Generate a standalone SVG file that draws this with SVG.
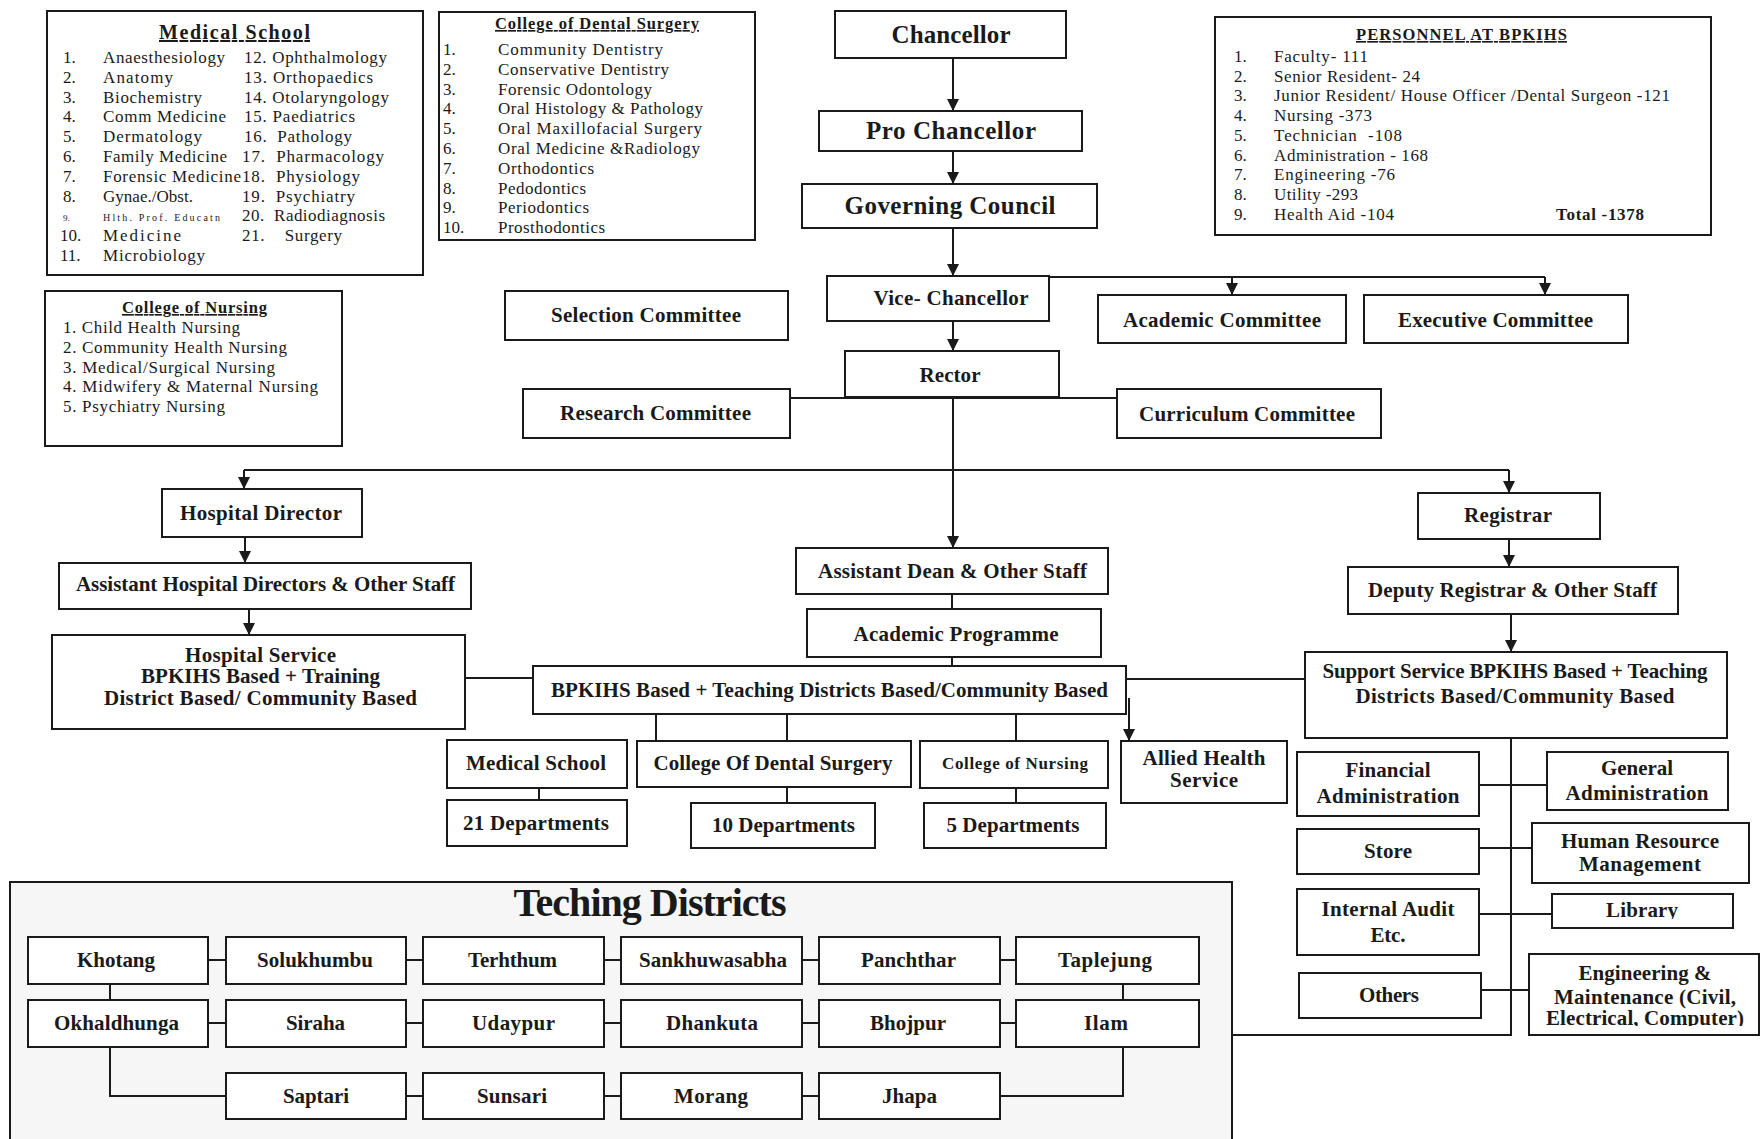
<svg xmlns="http://www.w3.org/2000/svg" width="1764" height="1139" viewBox="0 0 1764 1139">
<style>
text{font-family:"Liberation Serif","Times New Roman",serif;fill:#1a1a1a}
.b{font-weight:bold;font-size:21px;text-anchor:middle}
.li{font-size:17px}
.ti{font-weight:bold;font-size:16.5px;text-anchor:middle;text-decoration:underline}
rect.n{fill:#fff;stroke:#1a1a1a;stroke-width:2}
.c line,.c polyline{stroke:#1a1a1a;stroke-width:2;fill:none}
</style>
<defs>
<marker id="ar" markerUnits="userSpaceOnUse" markerWidth="12" markerHeight="12" viewBox="0 0 12 12" refX="12" refY="6" orient="auto">
<path d="M0,0 L12,6 L0,12 z" fill="#1a1a1a"/>
</marker>
<clipPath id="clipLib"><rect x="1552" y="894" width="181" height="25"/></clipPath>
<clipPath id="clipEng"><rect x="1529" y="1005" width="230" height="21"/></clipPath>
</defs>
<rect width="1764" height="1139" fill="#fff"/>

<g id="teaching-districts">
<rect x="10" y="882" width="1222" height="270" fill="#f6f6f6" stroke="#1a1a1a" stroke-width="2"/>
<text x="650" y="916" font-size="40" font-weight="bold" text-anchor="middle" textLength="273">Teching Districts</text>
</g>

<g class="c" id="connectors">
<line x1="953" y1="58" x2="953" y2="111" marker-end="url(#ar)"/>
<line x1="953" y1="151" x2="953" y2="184" marker-end="url(#ar)"/>
<line x1="953" y1="228" x2="953" y2="276" marker-end="url(#ar)"/>
<line x1="953" y1="277" x2="1545" y2="277"/>
<line x1="1232" y1="277" x2="1232" y2="295" marker-end="url(#ar)"/>
<line x1="1545" y1="277" x2="1545" y2="295" marker-end="url(#ar)"/>
<line x1="953" y1="321" x2="953" y2="351" marker-end="url(#ar)"/>
<line x1="790" y1="398" x2="1117" y2="398"/>
<line x1="953" y1="397" x2="953" y2="548" marker-end="url(#ar)"/>
<line x1="244" y1="470" x2="1509" y2="470"/>
<line x1="244" y1="470" x2="244" y2="489" marker-end="url(#ar)"/>
<line x1="1509" y1="470" x2="1509" y2="493" marker-end="url(#ar)"/>
<line x1="245" y1="537" x2="245" y2="563" marker-end="url(#ar)"/>
<line x1="249" y1="609" x2="249" y2="635" marker-end="url(#ar)"/>
<line x1="1509" y1="539" x2="1509" y2="567" marker-end="url(#ar)"/>
<line x1="1511" y1="614" x2="1511" y2="652" marker-end="url(#ar)"/>
<line x1="952" y1="594" x2="952" y2="609"/>
<line x1="952" y1="657" x2="952" y2="666"/>
<line x1="465" y1="678" x2="533" y2="678"/>
<line x1="1126" y1="679" x2="1305" y2="679"/>
<line x1="1129" y1="698" x2="1129" y2="741" marker-end="url(#ar)"/>
<line x1="656" y1="714" x2="656" y2="741"/>
<line x1="787" y1="714" x2="787" y2="741"/>
<line x1="1016" y1="714" x2="1016" y2="741"/>
<line x1="539" y1="788" x2="539" y2="800"/>
<line x1="787" y1="787" x2="787" y2="803"/>
<line x1="1016" y1="788" x2="1016" y2="803"/>
<polyline points="1511,738 1511,1035 1232,1035"/>
<line x1="1479" y1="785" x2="1547" y2="785"/>
<line x1="1479" y1="848" x2="1532" y2="848"/>
<line x1="1479" y1="914" x2="1552" y2="914"/>
<line x1="1481" y1="990" x2="1529" y2="990"/>
<line x1="208" y1="960" x2="226" y2="960"/>
<line x1="406" y1="960" x2="423" y2="960"/>
<line x1="604" y1="960" x2="621" y2="960"/>
<line x1="802" y1="960" x2="819" y2="960"/>
<line x1="1000" y1="960" x2="1016" y2="960"/>
<line x1="208" y1="1023" x2="226" y2="1023"/>
<line x1="406" y1="1023" x2="423" y2="1023"/>
<line x1="604" y1="1023" x2="621" y2="1023"/>
<line x1="802" y1="1023" x2="819" y2="1023"/>
<line x1="1000" y1="1023" x2="1016" y2="1023"/>
<line x1="406" y1="1096" x2="423" y2="1096"/>
<line x1="604" y1="1096" x2="621" y2="1096"/>
<line x1="802" y1="1096" x2="819" y2="1096"/>
<line x1="110" y1="984" x2="110" y2="1000"/>
<polyline points="110,1047 110,1096 226,1096"/>
<line x1="1123" y1="984" x2="1123" y2="1000"/>
<polyline points="1123,1047 1123,1096 1000,1096"/>
</g>

<g id="medical-school-list">
<rect class="n" x="47" y="11" width="376" height="264"/>
<text class="ti" x="234.5" y="39" style="font-size:20px" textLength="151">Medical School</text>
<g class="li">
<text x="63" y="63">1.</text><text x="103" y="63" textLength="122">Anaesthesiology</text>
<text x="63" y="83">2.</text><text x="103" y="83" textLength="70">Anatomy</text>
<text x="63" y="103">3.</text><text x="103" y="103" textLength="99">Biochemistry</text>
<text x="63" y="122">4.</text><text x="103" y="122" textLength="123">Comm Medicine</text>
<text x="63" y="142">5.</text><text x="103" y="142" textLength="99">Dermatology</text>
<text x="63" y="162">6.</text><text x="103" y="162" textLength="124">Family Medicine</text>
<text x="63" y="182">7.</text><text x="103" y="182" textLength="138">Forensic Medicine</text>
<text x="63" y="202">8.</text><text x="103" y="202" textLength="90">Gynae./Obst.</text>
<text x="63" y="221" font-size="9">9.</text><text x="103" y="221" font-size="10" textLength="117">Hlth. Prof. Educatn</text>
<text x="60" y="241">10.</text><text x="103" y="241" textLength="78">Medicine</text>
<text x="60" y="261">11.</text><text x="103" y="261" textLength="102">Microbiology</text>
<text x="244" y="63" textLength="143">12. Ophthalmology</text>
<text x="244" y="83" textLength="129">13. Orthopaedics</text>
<text x="244" y="103" textLength="145">14. Otolaryngology</text>
<text x="244" y="122" textLength="111">15. Paediatrics</text>
<text x="244" y="142" textLength="108" xml:space="preserve">16.  Pathology</text>
<text x="242" y="162" textLength="142" xml:space="preserve">17.  Pharmacology</text>
<text x="242" y="182" textLength="118" xml:space="preserve">18.  Physiology</text>
<text x="242" y="202" textLength="113" xml:space="preserve">19.  Psychiatry</text>
<text x="242" y="221" textLength="143" xml:space="preserve">20.  Radiodiagnosis</text>
<text x="242" y="241" textLength="100" xml:space="preserve">21.    Surgery</text>
</g>
</g>

<g id="dental-list">
<rect class="n" x="439" y="12" width="316" height="228"/>
<text class="ti" x="597" y="29" textLength="204">College of Dental Surgery</text>
<g class="li">
<text x="443" y="55">1.</text><text x="498" y="55" textLength="165">Community Dentistry</text>
<text x="443" y="75">2.</text><text x="498" y="75" textLength="171">Conservative Dentistry</text>
<text x="443" y="95">3.</text><text x="498" y="95" textLength="154">Forensic Odontology</text>
<text x="443" y="114">4.</text><text x="498" y="114" textLength="205">Oral Histology &amp; Pathology</text>
<text x="443" y="134">5.</text><text x="498" y="134" textLength="204">Oral Maxillofacial Surgery</text>
<text x="443" y="154">6.</text><text x="498" y="154" textLength="202">Oral Medicine &amp;Radiology</text>
<text x="443" y="174">7.</text><text x="498" y="174" textLength="96">Orthodontics</text>
<text x="443" y="194">8.</text><text x="498" y="194" textLength="88">Pedodontics</text>
<text x="443" y="213">9.</text><text x="498" y="213" textLength="91">Periodontics</text>
<text x="443" y="233">10.</text><text x="498" y="233" textLength="107">Prosthodontics</text>
</g>
</g>

<g id="nursing-list">
<rect class="n" x="45" y="291" width="297" height="155"/>
<text class="ti" x="194.5" y="313" textLength="145">College of Nursing</text>
<g class="li">
<text x="63" y="333" textLength="177">1. Child Health Nursing</text>
<text x="63" y="353" textLength="224">2. Community Health Nursing</text>
<text x="63" y="373" textLength="212">3. Medical/Surgical Nursing</text>
<text x="63" y="392" textLength="255">4. Midwifery &amp; Maternal Nursing</text>
<text x="63" y="412" textLength="162">5. Psychiatry Nursing</text>
</g>
</g>

<g id="personnel">
<rect class="n" x="1215" y="17" width="496" height="218"/>
<text class="ti" x="1461.5" y="40" textLength="211">PERSONNEL AT BPKIHS</text>
<g class="li">
<text x="1234" y="62">1.</text><text x="1274" y="62" textLength="94">Faculty- 111</text>
<text x="1234" y="82">2.</text><text x="1274" y="82" textLength="146">Senior Resident- 24</text>
<text x="1234" y="101">3.</text><text x="1274" y="101" textLength="396">Junior Resident/ House Officer /Dental Surgeon -121</text>
<text x="1234" y="121">4.</text><text x="1274" y="121" textLength="98">Nursing -373</text>
<text x="1234" y="141">5.</text><text x="1274" y="141" textLength="128" xml:space="preserve">Technician  -108</text>
<text x="1234" y="161">6.</text><text x="1274" y="161" textLength="154">Administration - 168</text>
<text x="1234" y="180">7.</text><text x="1274" y="180" textLength="121">Engineering -76</text>
<text x="1234" y="200">8.</text><text x="1274" y="200" textLength="84">Utility -293</text>
<text x="1234" y="220">9.</text><text x="1274" y="220" textLength="120">Health Aid -104</text>
<text x="1556" y="220" font-weight="bold" textLength="88">Total -1378</text>
</g>
</g>

<g id="chancellor"><rect class="n" x="835" y="11" width="231" height="47"/><text class="b" x="951" y="43" style="font-size:25px" textLength="119">Chancellor</text></g>
<g id="pro-chancellor"><rect class="n" x="819" y="111" width="263" height="40"/><text class="b" x="951" y="139" style="font-size:25px" textLength="170">Pro Chancellor</text></g>
<g id="governing-council"><rect class="n" x="802" y="184" width="295" height="44"/><text class="b" x="950" y="214" style="font-size:25px" textLength="211">Governing Council</text></g>
<g id="vice-chancellor"><rect class="n" x="827" y="276" width="222" height="45"/><text class="b" x="951" y="305" textLength="155">Vice- Chancellor</text></g>
<g id="selection-committee"><rect class="n" x="505" y="291" width="283" height="49"/><text class="b" x="646" y="322" textLength="190">Selection Committee</text></g>
<g id="academic-committee"><rect class="n" x="1098" y="295" width="248" height="48"/><text class="b" x="1222" y="327" textLength="198">Academic Committee</text></g>
<g id="executive-committee"><rect class="n" x="1364" y="295" width="264" height="48"/><text class="b" x="1495.5" y="327" textLength="195">Executive Committee</text></g>
<g id="rector"><rect class="n" x="845" y="351" width="214" height="46"/><text class="b" x="950" y="382" textLength="61">Rector</text></g>
<g id="research-committee"><rect class="n" x="523" y="389" width="267" height="49"/><text class="b" x="655.5" y="420" textLength="191">Research Committee</text></g>
<g id="curriculum-committee"><rect class="n" x="1117" y="389" width="264" height="49"/><text class="b" x="1247" y="421" textLength="216">Curriculum Committee</text></g>
<g id="hospital-director"><rect class="n" x="162" y="489" width="200" height="48"/><text class="b" x="261" y="520" textLength="162">Hospital Director</text></g>
<g id="asst-hospital-directors"><rect class="n" x="59" y="563" width="412" height="46"/><text class="b" x="265.5" y="591" textLength="379">Assistant Hospital Directors &amp; Other Staff</text></g>
<g id="hospital-service"><rect class="n" x="52" y="635" width="413" height="94"/>
<text class="b" x="260.5" y="662" textLength="151">Hospital Service</text>
<text class="b" x="260.5" y="683" textLength="239">BPKIHS Based + Training</text>
<text class="b" x="260.5" y="705" textLength="313">District Based/ Community Based</text></g>
<g id="assistant-dean"><rect class="n" x="796" y="548" width="312" height="46"/><text class="b" x="952.5" y="578" textLength="269">Assistant Dean &amp; Other Staff</text></g>
<g id="academic-programme"><rect class="n" x="807" y="609" width="294" height="48"/><text class="b" x="956" y="641" textLength="205">Academic Programme</text></g>
<g id="bpkihs-based"><rect class="n" x="533" y="666" width="593" height="48"/><text class="b" x="829.5" y="697" textLength="557">BPKIHS Based + Teaching Districts Based/Community Based</text></g>
<g id="registrar"><rect class="n" x="1418" y="493" width="182" height="46"/><text class="b" x="1508" y="522" textLength="88">Registrar</text></g>
<g id="deputy-registrar"><rect class="n" x="1348" y="567" width="330" height="47"/><text class="b" x="1512.5" y="597" textLength="289">Deputy Registrar &amp; Other Staff</text></g>
<g id="support-service"><rect class="n" x="1305" y="652" width="422" height="86"/>
<text class="b" x="1515" y="678" textLength="385">Support Service BPKIHS Based + Teaching</text>
<text class="b" x="1515" y="703" textLength="319">Districts Based/Community Based</text></g>
<g id="medical-school"><rect class="n" x="447" y="740" width="180" height="48"/><text class="b" x="536" y="770" textLength="140">Medical School</text></g>
<g id="college-dental"><rect class="n" x="637" y="741" width="274" height="46"/><text class="b" x="773" y="770" textLength="239">College Of Dental Surgery</text></g>
<g id="college-nursing"><rect class="n" x="920" y="741" width="188" height="47"/><text class="b" x="1015" y="769" style="font-size:17px" textLength="146">College of Nursing</text></g>
<g id="allied-health"><rect class="n" x="1121" y="741" width="166" height="62"/>
<text class="b" x="1204" y="765" textLength="123">Allied Health</text>
<text class="b" x="1204" y="787" textLength="68">Service</text></g>
<g id="dept-21"><rect class="n" x="447" y="800" width="180" height="46"/><text class="b" x="536" y="830" textLength="146">21 Departments</text></g>
<g id="dept-10"><rect class="n" x="691" y="803" width="184" height="45"/><text class="b" x="783.5" y="832" textLength="143">10 Departments</text></g>
<g id="dept-5"><rect class="n" x="924" y="803" width="182" height="45"/><text class="b" x="1013" y="832" textLength="133">5 Departments</text></g>
<g id="financial-admin"><rect class="n" x="1297" y="752" width="182" height="64"/>
<text class="b" x="1388" y="777" textLength="85">Financial</text>
<text class="b" x="1388" y="803" textLength="143">Administration</text></g>
<g id="store"><rect class="n" x="1297" y="829" width="182" height="45"/><text class="b" x="1388" y="858" textLength="48">Store</text></g>
<g id="internal-audit"><rect class="n" x="1297" y="889" width="182" height="66"/>
<text class="b" x="1388" y="916" textLength="133">Internal Audit</text>
<text class="b" x="1388" y="942" textLength="35">Etc.</text></g>
<g id="others"><rect class="n" x="1299" y="973" width="182" height="45"/><text class="b" x="1389" y="1002" textLength="60">Others</text></g>
<g id="general-admin"><rect class="n" x="1547" y="752" width="181" height="58"/>
<text class="b" x="1637" y="775" textLength="72">General</text>
<text class="b" x="1637" y="800" textLength="143">Administration</text></g>
<g id="hrm"><rect class="n" x="1532" y="823" width="217" height="60"/>
<text class="b" x="1640" y="848" textLength="158">Human Resource</text>
<text class="b" x="1640" y="871" textLength="122">Management</text></g>
<g id="library"><rect class="n" x="1552" y="894" width="181" height="34"/>
<text class="b" x="1642" y="917" textLength="72" clip-path="url(#clipLib)">Library</text></g>
<g id="engineering"><rect class="n" x="1529" y="954" width="230" height="81"/>
<text class="b" x="1645" y="980" textLength="133">Engineering &amp;</text>
<text class="b" x="1645" y="1004" textLength="182">Maintenance (Civil,</text>
<text class="b" x="1645" y="1025" textLength="198" clip-path="url(#clipEng)">Electrical, Computer)</text></g>

<g id="khotang"><rect class="n" x="28" y="937" width="180" height="47"/><text class="b" x="116" y="967" textLength="78">Khotang</text></g>
<g id="solukhumbu"><rect class="n" x="226" y="937" width="180" height="47"/><text class="b" x="315" y="967" textLength="116">Solukhumbu</text></g>
<g id="terhthum"><rect class="n" x="423" y="937" width="181" height="47"/><text class="b" x="512.5" y="967" textLength="89">Terhthum</text></g>
<g id="sankhuwasabha"><rect class="n" x="621" y="937" width="181" height="47"/><text class="b" x="713" y="967" textLength="148">Sankhuwasabha</text></g>
<g id="panchthar"><rect class="n" x="819" y="937" width="181" height="47"/><text class="b" x="908.5" y="967" textLength="95">Panchthar</text></g>
<g id="taplejung"><rect class="n" x="1016" y="937" width="183" height="47"/><text class="b" x="1105" y="967" textLength="94">Taplejung</text></g>
<g id="okhaldhunga"><rect class="n" x="28" y="1000" width="180" height="47"/><text class="b" x="116.5" y="1030" textLength="125">Okhaldhunga</text></g>
<g id="siraha"><rect class="n" x="226" y="1000" width="180" height="47"/><text class="b" x="315.5" y="1030" textLength="59">Siraha</text></g>
<g id="udaypur"><rect class="n" x="423" y="1000" width="181" height="47"/><text class="b" x="513.5" y="1030" textLength="83">Udaypur</text></g>
<g id="dhankuta"><rect class="n" x="621" y="1000" width="181" height="47"/><text class="b" x="712" y="1030" textLength="92">Dhankuta</text></g>
<g id="bhojpur"><rect class="n" x="819" y="1000" width="181" height="47"/><text class="b" x="908" y="1030" textLength="76">Bhojpur</text></g>
<g id="ilam"><rect class="n" x="1016" y="1000" width="183" height="47"/><text class="b" x="1106" y="1030" textLength="44">Ilam</text></g>
<g id="saptari"><rect class="n" x="226" y="1073" width="180" height="46"/><text class="b" x="316" y="1103" textLength="66">Saptari</text></g>
<g id="sunsari"><rect class="n" x="423" y="1073" width="181" height="46"/><text class="b" x="512" y="1103" textLength="70">Sunsari</text></g>
<g id="morang"><rect class="n" x="621" y="1073" width="181" height="46"/><text class="b" x="711" y="1103" textLength="74">Morang</text></g>
<g id="jhapa"><rect class="n" x="819" y="1073" width="181" height="46"/><text class="b" x="909.5" y="1103" textLength="55">Jhapa</text></g>
</svg>
